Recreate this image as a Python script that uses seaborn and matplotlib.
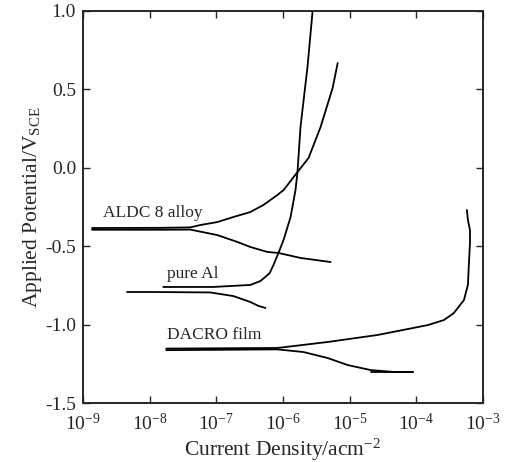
import matplotlib
matplotlib.use("Agg")
import matplotlib.pyplot as plt
from matplotlib.ticker import FixedLocator, NullLocator, LogLocator, FormatStrFormatter
import seaborn as sns
import pandas as pd

# ---- data (current density in A/cm^2, potential in V vs SCE) ----
aldc_cath_i = [1.365e-9, 5.09e-9, 1.44e-8, 4.06e-8, 1.035e-7, 2.07e-7, 3.24e-7,
               5.85e-7, 8.55e-7, 1.83e-6, 5.18e-6]
aldc_cath_E = [-0.395, -0.395, -0.395, -0.394, -0.429, -0.473, -0.505,
               -0.537, -0.543, -0.575, -0.601]
aldc_anod_i = [1.365e-9, 1.44e-8, 4.06e-8, 5.75e-8, 1.035e-7, 1.80e-7, 3.24e-7,
               5.09e-7, 8.26e-7, 1.02e-6, 1.65e-6, 2.42e-6, 3.66e-6, 5.55e-6, 6.61e-6]
aldc_anod_E = [-0.384, -0.383, -0.38, -0.365, -0.346, -0.314, -0.282,
               -0.237, -0.173, -0.142, -0.027, 0.063, 0.260, 0.509, 0.668]

al_anod_i = [1.60e-8, 9.0e-8, 3.24e-7, 4.59e-7, 5.85e-7, 6.3e-7, 7.19e-7, 8.55e-7,
             1.02e-6, 1.30e-6, 1.54e-6, 1.65e-6, 1.83e-6, 1.96e-6, 2.33e-6, 2.78e-6]
al_anod_E = [-0.760, -0.760, -0.747, -0.722, -0.684, -0.672, -0.620, -0.543,
             -0.460, -0.314, -0.142, -0.027, 0.260, 0.369, 0.643, 1.0]
al_cath_i = [4.59e-9, 1.02e-8, 8.13e-8, 1.80e-7, 3.24e-7, 4.29e-7, 5.46e-7]
al_cath_E = [-0.792, -0.792, -0.795, -0.818, -0.856, -0.881, -0.894]

dacro_anod_i = [1.77e-8, 8.26e-7, 4.67e-6, 2.64e-5, 1.49e-4, 2.59e-4, 3.66e-4,
                5.18e-4, 5.94e-4, 6.15e-4, 6.38e-4, 6.38e-4, 5.94e-4, 5.74e-4]
dacro_anod_E = [-1.153, -1.149, -1.111, -1.066, -1.003, -0.971, -0.926,
                -0.843, -0.747, -0.607, -0.480, -0.397, -0.333, -0.269]
dacro_cath_i = [1.77e-8, 8.26e-7, 2.03e-6, 4.67e-6, 9.33e-6, 2.07e-5, 4.59e-5, 8.85e-5]
dacro_cath_E = [-1.163, -1.158, -1.175, -1.213, -1.258, -1.290, -1.302, -1.302]
dacro_stub_i = [2.07e-5, 8.85e-5]
dacro_stub_E = [-1.304, -1.304]

labels = ["ALDC 8 alloy", "pure Al", "DACRO film"]
label_i = [2.0e-9, 1.83e-8, 1.83e-8]
label_E = [-0.314, -0.703, -1.092]

y_ticks = [-1.5, -1.0, -0.5, 0.0, 0.5, 1.0]

# ---- style ----
sns.set_style("ticks")
plt.rcParams["font.family"] = ["Liberation Serif", "DejaVu Serif"]
plt.rcParams["mathtext.fontset"] = "custom"
plt.rcParams["mathtext.rm"] = "Liberation Serif"
plt.rcParams["mathtext.it"] = "Liberation Serif:italic"
plt.rcParams["mathtext.bf"] = "Liberation Serif:bold"
plt.rcParams["axes.unicode_minus"] = False

fig = plt.figure(figsize=(5.11, 4.62), dpi=100)
ax = fig.add_axes([83 / 511, 1 - 403 / 462, 400 / 511, 392 / 462])

curves = [
    (aldc_cath_i, aldc_cath_E), (aldc_anod_i, aldc_anod_E),
    (al_anod_i, al_anod_E), (al_cath_i, al_cath_E),
    (dacro_anod_i, dacro_anod_E), (dacro_cath_i, dacro_cath_E),
    (dacro_stub_i, dacro_stub_E),
]
for xi, yi in curves:
    df = pd.DataFrame({"i": xi, "E": yi})
    sns.lineplot(data=df, x="i", y="E", sort=False, estimator=None,
                 color="black", linewidth=1.3, ax=ax)

for t, xi, yi in zip(labels, label_i, label_E):
    ax.text(xi, yi, t, fontsize=12.5, ha="left", va="baseline")

ax.set_xscale("log")
ax.set_xlim(1e-9, 1e-3)
ax.set_ylim(-1.5, 1.0)
ax.xaxis.set_major_locator(LogLocator(base=10, numticks=10))
ax.xaxis.set_minor_locator(NullLocator())
ax.yaxis.set_major_locator(FixedLocator(y_ticks))
ax.yaxis.set_major_formatter(FormatStrFormatter("%.1f"))

ax.tick_params(direction="in", length=5, width=1.0, labelsize=14,
               top=True, right=True, labeltop=False, labelright=False)
ax.tick_params(axis="y", pad=5)
ax.tick_params(axis="x", pad=7)
for s in ax.spines.values():
    s.set_linewidth(1.4)
    s.set_visible(True)

ax.set_xlabel("Current Density/acm$^{-2}$", fontsize=15.5, labelpad=2)
ax.set_ylabel("Applied Potential/V$_{\\rm SCE}$", fontsize=15.5, labelpad=1)

fig.savefig("out.png", dpi=100)
